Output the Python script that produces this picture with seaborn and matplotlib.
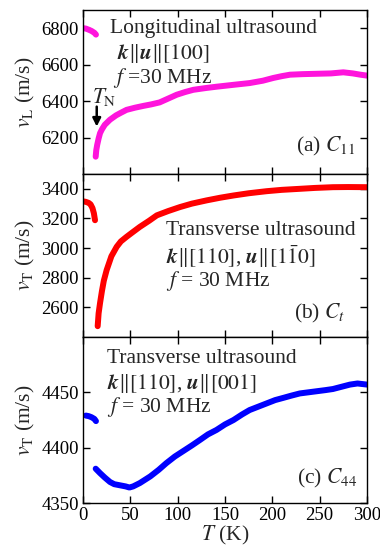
import numpy as np
import pandas as pd
import matplotlib
matplotlib.use("Agg")
import matplotlib.pyplot as plt
import seaborn as sns

# ---- data ----
T_a_low = [0.5, 3, 6, 9, 12, 13.7]
vL_low = [6800, 6798, 6792, 6785, 6775, 6765]
T_a = [13.4, 14, 15, 16.5, 18, 20, 23, 28.5, 35, 40, 46, 55, 64, 72, 81, 90, 99, 108, 116.5, 130, 141, 160, 176, 190, 201, 210, 218.7, 232, 247, 262, 275, 285, 293, 300]
vL = [6095, 6130, 6160, 6195, 6224, 6245, 6270, 6298, 6322, 6336, 6352, 6364, 6374, 6382, 6393, 6414, 6435, 6450, 6462, 6472, 6479, 6490, 6499, 6512, 6527, 6537, 6545, 6548, 6550, 6552, 6558, 6552, 6545, 6540]

T_b_low = [0.5, 3, 6, 8, 10, 11.5, 12.7]
vT_b_low = [3315, 3312, 3305, 3295, 3270, 3235, 3188]
T_b = [15.5, 16.5, 18, 20, 22, 25, 30, 35.6, 40, 46, 52, 60, 70, 78, 90, 102.5, 115, 130.6, 145, 159, 175, 194, 210, 229, 245, 264, 280, 300]
vT_b = [2473, 2560, 2629, 2710, 2780, 2852, 2945, 3009, 3045, 3076, 3105, 3143, 3185, 3221, 3250, 3277, 3300, 3322, 3340, 3355, 3370, 3384, 3393, 3400, 3406, 3411, 3412, 3411]

T_c_low = [3, 6, 9, 12, 13.7]
vT_c_low = [4429, 4428.5, 4427.5, 4426, 4424]
T_c = [13.4, 18, 23, 28.5, 33, 39, 45, 49, 53, 60, 71, 80, 88, 97, 106, 115, 123.6, 132, 141, 150, 159, 168, 176, 185, 194, 203, 211.6, 220, 229, 238, 247, 256, 264, 273, 282, 290, 300]
vT_c = [4381, 4377, 4373, 4369, 4367, 4366, 4365, 4364, 4365, 4368, 4374, 4380, 4386, 4392, 4397, 4402, 4407, 4412, 4416, 4421, 4425, 4430, 4434, 4437, 4440, 4443, 4445, 4447, 4449, 4450, 4451, 4452, 4453, 4455, 4457, 4458, 4457]

xticks = [0, 50, 100, 150, 200, 250, 300]
yticks_a = [6200, 6400, 6600, 6800]
yticks_b = [2600, 2800, 3000, 3200, 3400]
yticks_c = [4350, 4400, 4450]

sns.set_theme(style="ticks")
plt.rcParams["font.family"] = ["Liberation Serif", "DejaVu Serif"]
plt.rcParams["mathtext.fontset"] = "stix"

fig = plt.figure(figsize=(3.8, 5.46), dpi=100)
W, H = 380, 546
def ax_at(l, t, r, b):
    return fig.add_axes([l / W, 1 - b / H, (r - l) / W, (b - t) / H])

axa = ax_at(83, 10, 367, 174)
axb = ax_at(83, 174, 367, 337)
axc = ax_at(83, 337, 367, 503)

mag = "#ff14dc"
lw = 4.3
kw = dict(linewidth=lw, solid_capstyle="round", legend=False, sort=False, estimator=None)

sns.lineplot(x=T_a_low, y=vL_low, color=mag, ax=axa, **kw)
sns.lineplot(x=T_a, y=vL, color=mag, ax=axa, **kw)
sns.lineplot(x=T_b_low, y=vT_b_low, color="#ff0000", ax=axb, **kw)
sns.lineplot(x=T_b, y=vT_b, color="#ff0000", ax=axb, **kw)
sns.lineplot(x=T_c_low, y=vT_c_low, color="#0000ff", ax=axc, **kw)
sns.lineplot(x=T_c, y=vT_c, color="#0000ff", ax=axc, **kw)

axa.set_ylim(6000, 6900)
axb.set_ylim(2400, 3500)
axc.set_ylim(4350, 4500)
axa.set_yticks(yticks_a)
axb.set_yticks(yticks_b)
axc.set_yticks(yticks_c)

for ax in (axa, axb, axc):
    ax.set_xlim(0, 300)
    ax.set_xticks(xticks)
    ax.tick_params(axis="both", which="both", direction="in", top=True, right=True,
                   length=5, width=1, labelsize=13.5, colors="black", pad=3)
    for s in ax.spines.values():
        s.set_linewidth(1.0)
        s.set_color("black")
    ax.set_xlabel("")
for ax in (axa, axb):
    ax.tick_params(labelbottom=False)

fs = 15.5
axa.set_ylabel(r"$v_{\rm L}$ (m/s)", fontsize=fs, labelpad=3)
axb.set_ylabel(r"$v_{\rm T}$ (m/s)", fontsize=fs, labelpad=3)
axc.set_ylabel(r"$v_{\rm T}$ (m/s)", fontsize=fs, labelpad=3)
axc.set_xlabel(r"$T$ (K)", fontsize=fs, labelpad=0)

# annotations panel a
axa.text(0.095, 0.888, "Longitudinal ultrasound", transform=axa.transAxes, fontsize=fs, va="center", ha="left")
axa.text(0.12, 0.736, r"$\boldsymbol{k}\|\boldsymbol{u}\|[100]$", transform=axa.transAxes, fontsize=fs, va="center", ha="left")
axa.text(0.105, 0.583, r"$f$ =30 MHz", transform=axa.transAxes, fontsize=fs, va="center", ha="left")
axa.text(0.958, 0.167, r"(a) $C_{11}$", transform=axa.transAxes, fontsize=fs, va="center", ha="right")
axa.text(22, 6420, r"$T_{\rm N}$", fontsize=fs, va="center", ha="center")
axa.annotate("", xy=(14.5, 6245), xytext=(14.5, 6385),
             arrowprops=dict(arrowstyle="-|>", color="black", lw=1.8, mutation_scale=12))

# panel b
axb.text(0.291, 0.652, "Transverse ultrasound", transform=axb.transAxes, fontsize=fs, va="center", ha="left")
axb.text(0.292, 0.493, r"$\boldsymbol{k}\|[110]$, $\boldsymbol{u}\|[1\bar{1}0]$", transform=axb.transAxes, fontsize=fs, va="center", ha="left")
axb.text(0.292, 0.346, r"$f$ = 30 MHz", transform=axb.transAxes, fontsize=fs, va="center", ha="left")
axb.text(0.922, 0.143, r"(b) $C_t$", transform=axb.transAxes, fontsize=fs, va="center", ha="right")

# panel c
axc.text(0.086, 0.872, "Transverse ultrasound", transform=axc.transAxes, fontsize=fs, va="center", ha="left")
axc.text(0.086, 0.721, r"$\boldsymbol{k}\|[110]$, $\boldsymbol{u}\|[001]$", transform=axc.transAxes, fontsize=fs, va="center", ha="left")
axc.text(0.086, 0.58, r"$f$ = 30 MHz", transform=axc.transAxes, fontsize=fs, va="center", ha="left")
axc.text(0.964, 0.149, r"(c) $C_{44}$", transform=axc.transAxes, fontsize=fs, va="center", ha="right")

fig.savefig("out.png", dpi=100)
